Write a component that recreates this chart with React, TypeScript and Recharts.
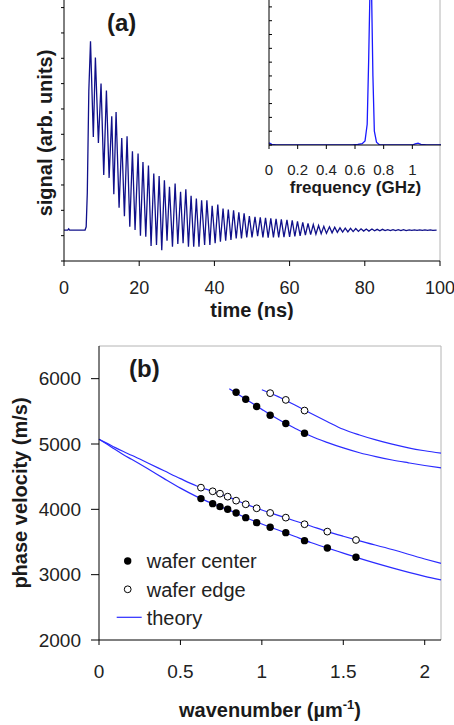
import React from 'react';
import { LineChart, ComposedChart, Line, Scatter, XAxis, YAxis, ReferenceLine } from 'recharts';

const FONT = '"Liberation Sans", Arial, Helvetica, sans-serif';

// ---- panel (a): transducer signal, turning points [time ns, level]
const riseSegment: [number, number][] = [
  [0, 1.22], [1.0, 1.22], [1.25, 1.27], [1.5, 1.22], [5.6, 1.22], [5.9, 1.35], [6.2, 2.7], [6.6, 6.7], [7.05, 8.67],
];
const earlyRing: [number, number][] = [
  [7.8, 4.89], [8.35, 8.03], [9.15, 4.66], [9.85, 7.0], [10.57, 3.39], [11.28, 6.73], [12.0, 3.28], [12.7, 5.71],
  [13.25, 2.63], [13.85, 5.88], [14.65, 2.1], [15.36, 4.85], [16.07, 1.77], [16.77, 4.92], [17.5, 1.35], [18.2, 4.33],
  [18.9, 1.22], [19.7, 4.24], [20.33, 1.0], [21.0, 3.91], [21.75, 0.96], [22.46, 3.77], [23.16, 0.59], [23.88, 3.45],
  [24.6, 0.63], [25.3, 3.35], [26.0, 0.43], [26.7, 3.19], [27.4, 0.8], [28.05, 2.93], [28.85, 0.56], [29.55, 3.06],
  [30.27, 0.67], [31.0, 2.73], [31.67, 0.7], [32.4, 2.83], [33.1, 0.56], [33.8, 2.57],
];
const midRing: [number, number][] = [
  [34.5, 0.56], [35.2, 2.47], [35.9, 0.56], [36.6, 2.4], [37.4, 0.63], [38.0, 2.4], [38.8, 0.63], [39.4, 2.18],
  [40.2, 0.7], [40.9, 2.23], [41.6, 0.76], [42.3, 2.07], [43.0, 0.8], [43.7, 2.03], [44.4, 0.83], [45.1, 2.0],
  [45.8, 0.89], [46.5, 1.92], [47.2, 0.89], [47.9, 1.88], [48.6, 0.93], [49.3, 1.77], [50.0, 0.93], [50.8, 1.74],
  [51.5, 0.98],
];
const lateRing: [number, number][] = [
  [52.2, 1.72], [52.9, 0.93], [53.6, 1.7], [54.3, 0.92], [55.0, 1.68], [55.7, 0.93], [56.4, 1.66], [57.1, 0.93],
  [57.8, 1.64], [58.5, 0.94], [59.3, 1.62], [60.0, 0.95], [60.7, 1.6], [61.4, 0.97], [62.1, 1.56], [62.8, 0.99],
  [63.5, 1.52], [64.2, 1.02], [64.9, 1.48], [65.6, 1.04], [66.3, 1.44], [67.0, 1.06], [67.7, 1.4], [68.4, 1.08],
  [69.1, 1.37], [69.8, 1.09], [70.6, 1.35], [71.3, 1.11], [72.0, 1.33], [72.7, 1.13], [73.4, 1.31], [74.1, 1.14],
  [74.8, 1.3], [75.5, 1.15], [76.2, 1.29], [76.9, 1.16], [77.6, 1.28], [78.3, 1.17], [79.0, 1.27], [79.7, 1.18],
  [80.4, 1.26], [81.1, 1.18], [81.9, 1.26], [82.6, 1.19], [83.3, 1.25], [84.0, 1.19], [84.7, 1.25], [85.4, 1.2],
  [86.1, 1.24], [86.8, 1.2], [87.5, 1.24], [88.2, 1.2], [88.9, 1.24], [89.6, 1.2], [90.3, 1.24], [91.0, 1.2],
  [91.8, 1.23], [92.5, 1.21], [93.2, 1.23], [93.9, 1.21], [94.6, 1.23], [95.3, 1.21], [96.0, 1.23], [96.7, 1.21],
  [97.4, 1.23], [98.1, 1.21], [99.1, 1.22],
];
const timeTicks = [0, 20, 40, 60, 80, 100];
const levelTicks = [0, 1, 2, 3, 4, 5, 6, 7, 8, 9, 10];

// inset: spectrum [GHz, amplitude]
const spectrum: [number, number][] = [
  [0, 0.15], [0.02, 0.05], [0.05, 0], [0.58, 0], [0.62, 0.04], [0.65, 0.1], [0.67, 0.3], [0.685, 1.5], [0.695, 6],
  [0.705, 11.5], [0.715, 11.5], [0.725, 5], [0.735, 1], [0.75, 0.2], [0.77, 0.02], [0.8, 0], [1.0, 0], [1.02, 0.08],
  [1.04, 0.14], [1.06, 0.05], [1.1, 0], [1.2, 0],
];
const freqTicks = [0, 0.2, 0.4, 0.6, 0.8, 1];
const ampTicks = [0, 1, 2, 3, 4, 5, 6, 7, 8, 9, 10];

// ---- panel (b): dispersion [wavenumber 1/um, phase velocity m/s]
const centerLow: [number, number][] = [
  [0.626, 4164], [0.698, 4087], [0.743, 4041], [0.79, 4001], [0.842, 3945], [0.901, 3873], [0.968, 3796],
  [1.051, 3725], [1.147, 3643], [1.262, 3521], [1.402, 3409], [1.578, 3266],
];
const edgeLow: [number, number][] = [
  [0.626, 4332], [0.698, 4276], [0.743, 4240], [0.79, 4194], [0.842, 4133], [0.901, 4077], [0.968, 4016],
  [1.051, 3945], [1.147, 3873], [1.262, 3772], [1.402, 3659], [1.578, 3531],
];
const centerHigh: [number, number][] = [
  [0.842, 5793], [0.901, 5686], [0.968, 5573], [1.051, 5441], [1.147, 5313], [1.262, 5165],
];
const edgeHigh: [number, number][] = [[1.051, 5778], [1.147, 5675], [1.262, 5512]];

const theoryCenterLow: [number, number][] = [
  [0, 5073], [0.05, 4995], [0.1, 4915], [0.15, 4835], [0.2, 4765], [0.3, 4620], [0.4, 4470], [0.5, 4325],
  [0.6, 4195], [0.7, 4085], [0.8, 3988], [0.9, 3875], [1.0, 3775], [1.1, 3683], [1.2, 3588], [1.3, 3493],
  [1.4, 3410], [1.5, 3330], [1.6, 3250], [1.8, 3105], [2.0, 2975], [2.1, 2919],
];
const theoryEdgeLow: [number, number][] = [
  [0, 5073], [0.05, 5010], [0.1, 4945], [0.15, 4884], [0.2, 4828], [0.3, 4710], [0.4, 4590], [0.5, 4470],
  [0.6, 4358], [0.7, 4273], [0.8, 4183], [0.9, 4080], [1.0, 3990], [1.1, 3908], [1.2, 3826], [1.3, 3745],
  [1.4, 3662], [1.5, 3588], [1.6, 3518], [1.8, 3385], [2.0, 3240], [2.1, 3174],
];
const theoryCenterHigh: [number, number][] = [
  [0.8, 5845], [0.9, 5690], [1.0, 5530], [1.1, 5378], [1.2, 5245], [1.3, 5122], [1.4, 5025], [1.5, 4940],
  [1.6, 4866], [1.7, 4806], [1.8, 4755], [1.9, 4712], [2.0, 4671], [2.1, 4634],
];
const theoryEdgeHigh: [number, number][] = [
  [1.0, 5830], [1.1, 5725], [1.2, 5600], [1.3, 5470], [1.4, 5345], [1.5, 5225], [1.6, 5138], [1.7, 5062],
  [1.8, 4998], [1.9, 4942], [2.0, 4897], [2.1, 4859],
];
const kTicks = [0, 0.5, 1, 1.5, 2];
const velocityTicks = [2000, 3000, 4000, 5000, 6000];

const toTV = (pts: [number, number][]) => pts.map(([t, v]) => ({ t, v }));
const toXY = (pts: [number, number][]) => pts.map(([x, y]) => ({ x, y }));

const signalData = toTV([...riseSegment, ...earlyRing, ...midRing, ...lateRing]);
const spectrumData = toTV(spectrum);

const THEORY = '#2b2bff';
const BORDER = '#b4b4b4';
const noLabel = () => '';

const FilledDot = (p: any) => <circle cx={p.cx} cy={p.cy} r={3.7} fill="#000" />;
const OpenDot = (p: any) => <circle cx={p.cx} cy={p.cy} r={3.4} fill="#fff" stroke="#000" strokeWidth={1} />;

const titleStyle = { fontFamily: FONT, fontWeight: 700, fill: '#1a1a1a' } as const;

export default function App() {
  return (
    <div style={{ position: 'absolute', left: 0, top: 0, width: 454, height: 725, background: '#fff', fontFamily: FONT }}>
      <div style={{ position: 'absolute', left: 0, top: 0 }}>
        <LineChart width={454} height={320} data={signalData} margin={{ top: 0, right: 14, left: 0, bottom: 0 }}>
          <XAxis
            type="number"
            dataKey="t"
            domain={[0, 100]}
            ticks={timeTicks}
            height={59}
            tickSize={5}
            tickMargin={15}
            stroke="#000"
            tick={{ fontSize: 18, fill: '#222', fontFamily: FONT }}
          />
          <YAxis
            type="number"
            domain={[0, 10.3]}
            ticks={levelTicks}
            width={64}
            tickSize={3}
            tickFormatter={noLabel}
            stroke="#000"
            tick={{ fontSize: 1 }}
          />
          <ReferenceLine x={100} stroke={BORDER} strokeWidth={1} />
          <Line type="linear" dataKey="v" stroke="#10108a" strokeWidth={1.3} dot={false} isAnimationActive={false} />
          <text x={107} y={31} fontSize={24} {...titleStyle}>(a)</text>
          <text x={252} y={317} fontSize={20} textAnchor="middle" {...titleStyle}>time (ns)</text>
          <text transform="translate(45,133) rotate(-90)" fontSize={20} textAnchor="middle" dominantBaseline="central" {...titleStyle}>
            signal (arb. units)
          </text>
        </LineChart>
      </div>

      <div style={{ position: 'absolute', left: 0, top: 0 }}>
        <LineChart width={454} height={200} data={spectrumData} margin={{ top: 0, right: 13, left: 269, bottom: 0 }}>
          <XAxis
            type="number"
            dataKey="t"
            domain={[0, 1.2]}
            ticks={freqTicks}
            height={55}
            tickSize={4}
            tickMargin={15}
            stroke="#000"
            tick={{ fontSize: 15, fill: '#222', fontFamily: FONT }}
          />
          <YAxis
            type="number"
            domain={[0, 10.5]}
            ticks={ampTicks}
            allowDataOverflow
            width={1}
            mirror
            tickSize={3}
            tickFormatter={noLabel}
            tick={{ fontSize: 1 }}
            stroke="#000"
          />
          <Line type="linear" dataKey="v" stroke="#1a1aff" strokeWidth={1.3} dot={false} isAnimationActive={false} />
          <text x={355.5} y={193} fontSize={17} textAnchor="middle" {...titleStyle}>frequency (GHz)</text>
        </LineChart>
      </div>

      <div style={{ position: 'absolute', left: 0, top: 320 }}>
        <ComposedChart width={454} height={405} margin={{ top: 26, right: 13, left: 0, bottom: 0 }}>
          <XAxis
            type="number"
            dataKey="x"
            domain={[0, 2.1]}
            ticks={kTicks}
            height={85}
            tickSize={5}
            tickMargin={20}
            stroke="#000"
            tick={{ fontSize: 19, fill: '#222', fontFamily: FONT }}
          />
          <YAxis
            type="number"
            dataKey="y"
            domain={[2000, 6500]}
            ticks={velocityTicks}
            width={99}
            tickSize={8}
            tickMargin={10}
            stroke="#000"
            tick={{ fontSize: 19, fill: '#222', fontFamily: FONT }}
          />
          <ReferenceLine x={2.1} stroke={BORDER} strokeWidth={1} />
          <ReferenceLine y={6500} stroke={BORDER} strokeWidth={1} />
          <Line data={toXY(theoryCenterLow)} type="monotone" dataKey="y" stroke={THEORY} strokeWidth={1.2} dot={false} isAnimationActive={false} />
          <Line data={toXY(theoryEdgeLow)} type="monotone" dataKey="y" stroke={THEORY} strokeWidth={1.2} dot={false} isAnimationActive={false} />
          <Line data={toXY(theoryCenterHigh)} type="monotone" dataKey="y" stroke={THEORY} strokeWidth={1.2} dot={false} isAnimationActive={false} />
          <Line data={toXY(theoryEdgeHigh)} type="monotone" dataKey="y" stroke={THEORY} strokeWidth={1.2} dot={false} isAnimationActive={false} />
          <Scatter data={toXY(centerLow)} dataKey="y" shape={FilledDot} isAnimationActive={false} />
          <Scatter data={toXY(centerHigh)} dataKey="y" shape={FilledDot} isAnimationActive={false} />
          <Scatter data={toXY(edgeLow)} dataKey="y" shape={OpenDot} isAnimationActive={false} />
          <Scatter data={toXY(edgeHigh)} dataKey="y" shape={OpenDot} isAnimationActive={false} />
          <text x={129} y={57} fontSize={24} {...titleStyle}>(b)</text>
          <text transform="translate(20,173) rotate(-90)" fontSize={20} textAnchor="middle" dominantBaseline="central" {...titleStyle}>
            phase velocity (m/s)
          </text>
          <text x={270} y={397} fontSize={20} textAnchor="middle" {...titleStyle}>
            <tspan>wavenumber (µm</tspan>
            <tspan dy={-8} fontSize={13}>-1</tspan>
            <tspan dy={8}>)</tspan>
          </text>
          <g fontFamily={FONT} fontSize={20} fill="#222">
            <circle cx={127.7} cy={241} r={3.7} fill="#000" />
            <text x={146.7} y={248.3}>wafer center</text>
            <circle cx={127.7} cy={269.3} r={3.4} fill="#fff" stroke="#000" />
            <text x={146.7} y={276.5}>wafer edge</text>
            <line x1={116.7} x2={141.7} y1={297.3} y2={297.3} stroke={THEORY} strokeWidth={1.2} />
            <text x={146.7} y={304.7}>theory</text>
          </g>
        </ComposedChart>
      </div>
    </div>
  );
}
